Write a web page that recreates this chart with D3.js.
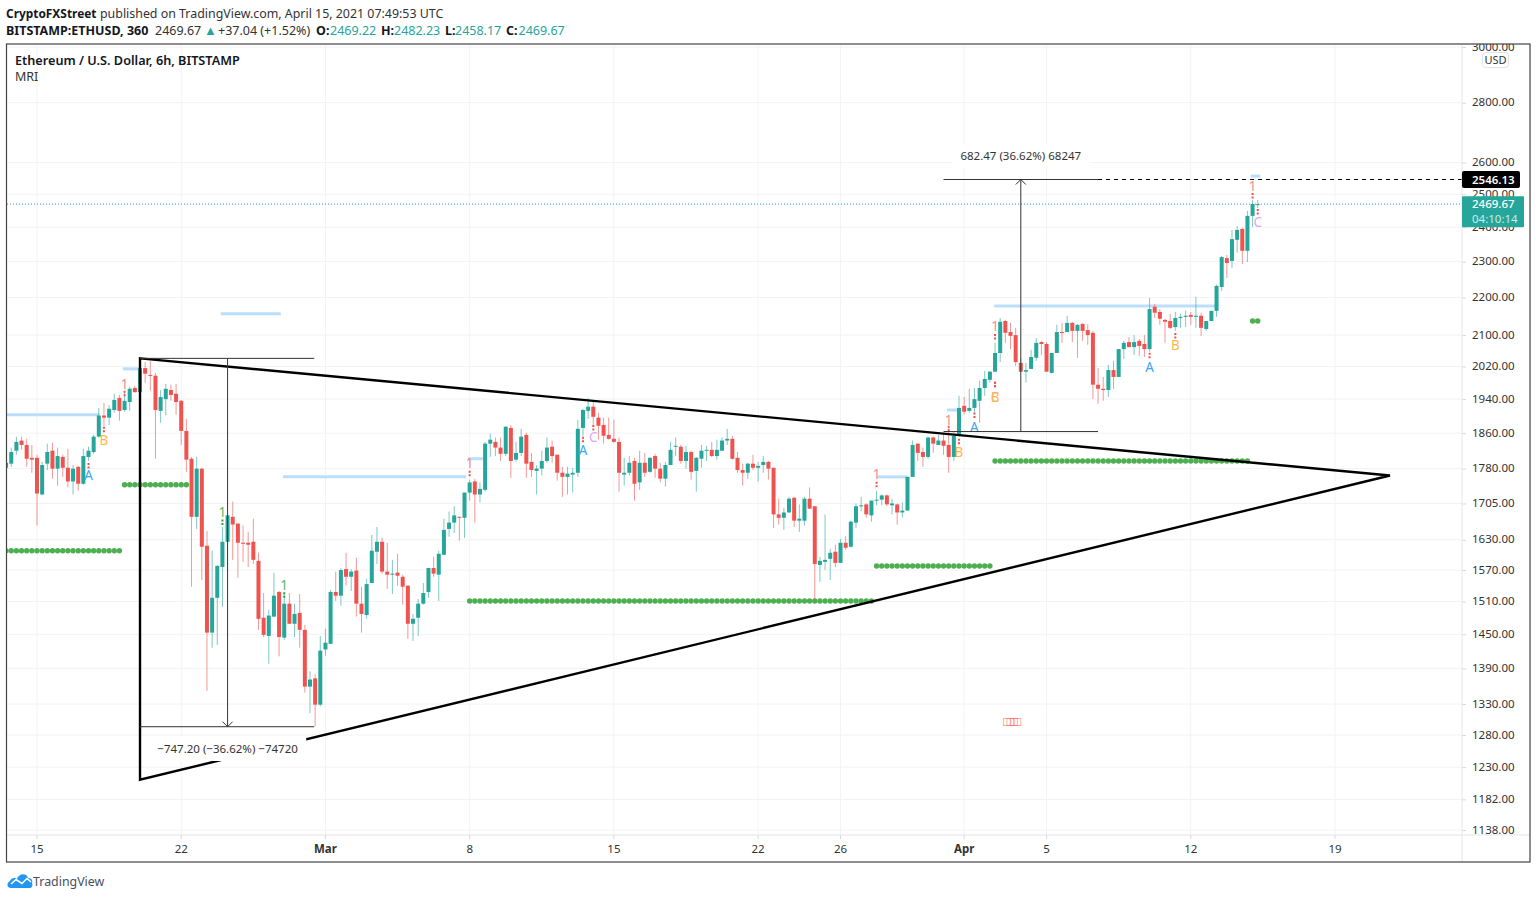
<!DOCTYPE html>
<html>
<head>
<meta charset="utf-8">
<title>ETHUSD</title>
<script src="https://cdn.jsdelivr.net/npm/d3@7"></script>
<style>
    body { margin: 0; background: #fff; }
    text { font-family: "Noto Sans", sans-serif; }
</style>
</head>
<body>
<div id="chart"></div>
<script>
// 6h bars, each row is [open, high, low, close]
var febBars = [
    [1782,1797,1777,1793],[1791,1827,1784,1817],[1820,1852,1811,1840],[1843,1852,1822,1833],[1833,1847,1784,1802],[1804,1833,1771,1800],
    [1804,1811,1659,1726],[1724,1795,1722,1788],[1791,1836,1777,1817],[1820,1838,1758,1780],[1780,1827,1743,1808],[1806,1811,1762,1782],
    [1782,1824,1739,1752],[1752,1788,1724,1780],[1784,1786,1732,1747],[1747,1824,1745,1808],[1806,1829,1797,1820],[1817,1856,1813,1852],
    [1852,1919,1850,1901],[1901,1931,1877,1896],[1896,1926,1879,1917],[1914,1953,1908,1938],[1943,1950,1889,1912],[1914,1957,1910,1936],
    [1933,1970,1912,1965],[1967,1972,1955,1957],[1957,2021,1955,2016],[2016,2031,1980,2002],[1999,2034,1960,1997],[1997,2004,1802,1914],
    [1912,1962,1884,1945],[1940,1977,1901,1965],[1962,1975,1936,1950],[1953,1977,1903,1933],[1936,1938,1833,1865],[1865,1893,1773,1800],
    [1802,1806,1538,1677],[1677,1806,1652,1780],[1780,1782,1551,1616],[1618,1648,1352,1453],[1453,1608,1426,1517],[1517,1580,1431,1578],
    [1576,1656,1500,1626],[1626,1680,1624,1680],[1677,1709,1590,1661],[1663,1663,1555,1624],[1624,1659,1586,1622],[1624,1646,1576,1620],
    [1626,1673,1582,1590],[1588,1604,1458,1478],[1480,1526,1445,1449],[1447,1495,1398,1484],[1482,1565,1482,1521],[1528,1530,1411,1445],
    [1444,1526,1440,1506],[1506,1526,1469,1469],[1469,1506,1445,1487],[1489,1524,1426,1458],[1458,1467,1349,1359],[1359,1385,1315,1371],
    [1373,1380,1294,1329],[1329,1447,1326,1421]
];
var marBars = [
    [1423,1460,1412,1435],[1433,1532,1433,1528],[1528,1567,1511,1521],[1521,1574,1502,1570],[1572,1604,1540,1557],[1557,1572,1530,1567],
    [1569,1594,1482,1506],[1506,1538,1453,1487],[1485,1553,1478,1543],[1545,1640,1545,1608],[1606,1656,1582,1626],[1626,1634,1563,1567],
    [1567,1624,1534,1561],[1561,1590,1524,1563],[1565,1602,1540,1559],[1557,1561,1504,1538],[1540,1540,1442,1469],[1469,1487,1438,1478],
    [1480,1515,1447,1506],[1506,1545,1504,1526],[1528,1574,1517,1574],[1574,1596,1557,1563],[1561,1608,1511,1602],[1600,1673,1600,1650],
    [1652,1688,1636,1665],[1665,1699,1644,1680],[1677,1677,1628,1675],[1675,1728,1634,1728],[1728,1756,1711,1750],[1752,1758,1665,1724],
    [1724,1750,1707,1736],[1734,1840,1730,1836],[1836,1859,1806,1845],[1840,1850,1808,1827],[1827,1850,1797,1813],[1813,1875,1808,1875],
    [1872,1879,1760,1797],[1800,1840,1795,1815],[1815,1870,1808,1852],[1856,1861,1760,1791],[1795,1815,1762,1777],[1775,1788,1724,1780],
    [1780,1820,1765,1797],[1797,1850,1793,1827],[1829,1843,1793,1808],[1811,1811,1754,1771],[1771,1784,1719,1762],[1762,1784,1724,1769],
    [1767,1782,1728,1771],[1771,1891,1762,1870],[1872,1917,1854,1914],[1912,1943,1893,1922],[1922,1933,1879,1898],[1896,1908,1845,1877],
    [1879,1896,1836,1854],[1856,1896,1845,1847],[1847,1891,1838,1840],[1840,1850,1730,1771],[1767,1804,1743,1771],[1771,1808,1765,1793],
    [1797,1804,1711,1747],[1750,1820,1734,1793],[1793,1815,1762,1771],[1773,1806,1771,1804],[1808,1813,1760,1780],[1780,1793,1750,1758],
    [1758,1795,1741,1788],[1788,1840,1788,1822],[1829,1850,1808,1831],[1829,1833,1791,1797],[1797,1831,1780,1817],[1817,1820,1756,1773],
    [1775,1806,1730,1804],[1802,1833,1782,1820],[1820,1831,1797,1822],[1822,1840,1806,1808],[1808,1845,1800,1822],[1820,1850,1820,1843],
    [1843,1870,1833,1847],[1847,1854,1800,1802],[1804,1817,1771,1777],[1777,1791,1743,1771],[1771,1793,1758,1791],[1791,1811,1777,1782],
    [1782,1795,1752,1786],[1788,1808,1771,1795],[1795,1797,1756,1780],[1782,1782,1654,1682],[1682,1715,1661,1675],[1675,1696,1650,1686],
    [1686,1719,1686,1715],[1717,1719,1656,1669],[1669,1703,1646,1673],[1669,1719,1659,1715],[1715,1739,1694,1694],[1699,1699,1513,1582],
    [1580,1596,1547,1588],[1586,1682,1570,1590],[1592,1612,1551,1604],[1606,1620,1576,1584],[1584,1632,1584,1624],[1624,1638,1610,1614],
    [1616,1669,1614,1667],[1665,1705,1654,1699],[1699,1719,1688,1701],[1703,1705,1675,1682],[1680,1711,1667,1711],[1711,1732,1701,1713],
    [1713,1724,1701,1722],[1722,1724,1699,1703],[1701,1715,1682,1705],[1703,1705,1661,1686],[1686,1707,1675,1690],[1690,1762,1690,1762],
    [1762,1843,1762,1833],[1836,1836,1797,1815],[1817,1827,1784,1806],[1806,1852,1802,1850],[1850,1852,1815,1836],[1833,1856,1833,1843],
    [1843,1861,1811,1831],[1833,1872,1771,1806],[1806,1863,1797,1854],[1854,1948,1852,1919]
];
var aprBars = [
    [1924,1945,1903,1910],[1912,1965,1908,1919],[1919,1967,1908,1940],[1936,1985,1884,1967],[1967,2009,1948,1989],[1987,2009,1980,2007],
    [2007,2080,2007,2054],[2054,2145,2031,2135],[2137,2140,2080,2106],[2108,2132,2064,2098],[2100,2119,2021,2031],[2029,2040,2007,2007],
    [2007,2029,1980,2011],[2014,2062,2014,2044],[2042,2092,2034,2080],[2082,2085,2049,2077],[2077,2082,2007,2007],[2004,2054,2002,2054],
    [2054,2127,2054,2108],[2108,2132,2080,2106],[2108,2151,2108,2132],[2132,2135,2082,2111],[2111,2129,2042,2127],[2129,2132,2085,2111],
    [2113,2129,2075,2100],[2106,2111,1940,1975],[1975,2016,1929,1965],[1965,1994,1936,1962],[1962,2024,1945,2011],[2011,2034,1965,1994],
    [1994,2064,1994,2064],[2064,2085,2039,2080],[2082,2095,2069,2069],[2069,2100,2049,2082],[2085,2090,2047,2072],[2077,2100,2044,2064],
    [2064,2199,2057,2169],[2175,2183,2145,2159],[2161,2169,2127,2143],[2140,2143,2080,2135],[2137,2156,2116,2119],[2121,2161,2111,2145],
    [2145,2156,2119,2148],[2148,2164,2121,2151],[2153,2161,2127,2148],[2148,2202,2119,2151],[2151,2159,2098,2119],[2116,2137,2111,2137],
    [2137,2164,2137,2164],[2164,2235,2148,2232],[2229,2316,2218,2313],[2310,2319,2254,2296],[2302,2392,2282,2365],[2363,2404,2325,2392],
    [2395,2398,2293,2331],[2331,2449,2299,2434],[2434,2483,2401,2470],[2469.22,2482.23,2458.17,2469.67]
];
var firstBar = "2021-02-13 12:00";

// Axis ticks
var priceTicks = [3000,2800,2600,2500,2400,2300,2200,2100,2020,1940,1860,1780,1705,1630,1570,1510,1450,1390,1330,1280,1230,1182,1138];
var timeTicks = ["2021-02-15","2021-02-22","2021-03-01","2021-03-08","2021-03-15","2021-03-22","2021-03-26","2021-04-01","2021-04-05","2021-04-12","2021-04-19"];
var timeLabels = ["15","22","Mar","8","15","22","26","Apr","5","12","19"];

// Light blue MRI levels
var blueStarts = ["2021-02-13 12:00","2021-02-19 04:00","2021-02-23 22:00","2021-02-26 22:30","2021-03-07 22:00","2021-03-27 18:00","2021-03-31 04:00","2021-04-02 11:00","2021-04-14 22:00"];
var blueEnds = ["2021-02-18 01:00","2021-02-20 00:00","2021-02-26 20:00","2021-03-07 20:00","2021-03-08 16:00","2021-03-29 06:00","2021-03-31 19:00","2021-04-13 05:00","2021-04-15 09:00"];
var bluePrices = [1903,2014,2156,1762,1802,1762,1914,2177,2557];

// Green MRI levels, one dot per bar
var greenStarts = ["2021-02-13 12:00","2021-02-19 06:00","2021-03-08 00:00","2021-03-27 18:00","2021-04-02 12:00","2021-04-15 00:00"];
var greenEnds = ["2021-02-19 00:00","2021-02-22 06:00","2021-03-27 12:00","2021-04-02 06:00","2021-04-14 18:00","2021-04-15 06:00"];
var greenPrices = [1608,1745,1511,1578,1797,2137];

// MRI signal labels
var signalTexts = ["1","1","1","1","1","1","1","1","A","B","A","C","B","A","C","B","A","B","C"];
var signalTimes = ["2021-02-19 06:00","2021-03-08 00:00","2021-03-27 18:00","2021-03-31 06:00","2021-04-02 12:00","2021-04-15 00:00","2021-02-24 00:00","2021-02-27 00:00","2021-02-17 12:00","2021-02-18 06:00","2021-03-13 12:00","2021-03-14 00:00","2021-03-31 18:00","2021-04-01 12:00","2021-04-02 12:00","2021-04-02 12:00","2021-04-10 00:00","2021-04-11 06:00","2021-04-15 06:00"];
var signalPrices = [1977,1793,1769,1891,2124,2526,1686,1541,1765,1845,1822,1852,1817,1875,1945,1945,2019,2075,2416];
var signalDotPrices = [1953,1769,1745,1870,2095,2495,1665,1522,1786,1868,1845,1872,1840,1901,1975,1975,2047,2098,2446];
var signalBelow = [1,1,1,1,1,1,0,0];

// Triangle drawn on the chart
var triangleTimes = ["2021-02-20 00:00","2021-04-21 16:00","2021-02-20 00:00"];
var trianglePrices = [2040.4,1765,1211];

// Price range tools
var downLeft = "2021-02-20 00:00", downRight = "2021-02-28 11:00", downMid = "2021-02-24 06:00";
var downHigh = 2040.4, downLow = 1293.2;
var upLeft = "2021-03-31 00:00", upRight = "2021-04-07 12:00", upMid = "2021-04-03 18:00";
var upHigh = 2546.13, upLow = 1863.66;
var lastPrice = 2469.67;

var upColor = "#26a69a";
var downColor = "#ef5350";
var signalColors = { A: "#42a5f5", B: "#ffb74d", C: "#e1a5f5" };

var svgWidth = 1536;
var svgHeight = 900;
var pane = { left: 7, right: 1462, top: 45, bottom: 835, frameRight: 1530, frameBottom: 862 };

var parseTime = d3.utcParse("%Y-%m-%d %H:%M");
var parseDay = d3.utcParse("%Y-%m-%d");

var svg = d3.select("#chart")
    .append("svg")
    .attr("width", svgWidth)
    .attr("height", svgHeight)
    .style("display", "block");

// Scales, the price axis is logarithmic
var xScale = d3.scaleUtc()
    .domain([parseDay("2021-02-15"), parseDay("2021-04-19")])
    .range([37, 1335]);
var yScale = d3.scaleLog()
    .domain([3000, 1138])
    .range([47, 830]);

var X = s => xScale(parseTime(s));

var defs = svg.append("defs");
defs.append("clipPath").attr("id", "paneClip").append("rect")
    .attr("x", pane.left).attr("y", pane.top)
    .attr("width", pane.right - pane.left).attr("height", pane.bottom - pane.top);
defs.append("clipPath").attr("id", "priceClip").append("rect")
    .attr("x", pane.right).attr("y", pane.top - 1)
    .attr("width", pane.frameRight - pane.right).attr("height", pane.bottom - pane.top + 1);

// Grid
var gridColor = "#f2f3f6";
var gridGroup = svg.append("g");
gridGroup.selectAll(".hgrid")
    .data(priceTicks)
    .enter()
    .append("line")
    .attr("x1", pane.left)
    .attr("x2", pane.right)
    .attr("y1", d => yScale(d))
    .attr("y2", d => yScale(d))
    .attr("stroke", gridColor);
gridGroup.selectAll(".vgrid")
    .data(timeTicks)
    .enter()
    .append("line")
    .attr("x1", d => xScale(parseDay(d)))
    .attr("x2", d => xScale(parseDay(d)))
    .attr("y1", pane.top)
    .attr("y2", pane.bottom)
    .attr("stroke", gridColor);

var chartGroup = svg.append("g").attr("clip-path", "url(#paneClip)");

// Light blue levels
chartGroup.selectAll(".blue")
    .data(bluePrices)
    .enter()
    .append("line")
    .attr("x1", (d, i) => X(blueStarts[i]))
    .attr("x2", (d, i) => X(blueEnds[i]))
    .attr("y1", d => yScale(d))
    .attr("y2", d => yScale(d))
    .attr("stroke", "#bbdefb")
    .attr("stroke-width", 3);

// Candles
var bars = febBars.concat(marBars, aprBars);
var barStart = parseTime(firstBar);
var barTime = i => d3.utcHour.offset(barStart, i * 6);

// Green levels, one dot for each bar inside the range
greenPrices.forEach(function (price, n) {
    var from = parseTime(greenStarts[n]);
    var to = parseTime(greenEnds[n]);
    var times = bars.map((b, i) => barTime(i)).filter(t => t >= from && t <= to);
    chartGroup.append("g").selectAll("circle")
        .data(times)
        .enter()
        .append("circle")
        .attr("cx", d => xScale(d))
        .attr("cy", yScale(price))
        .attr("r", 2.7)
        .attr("fill", "#4caf50");
});

var candles = chartGroup.selectAll(".candle")
    .data(bars)
    .enter()
    .append("g")
    .attr("class", "candle")
    .attr("transform", (d, i) => `translate(${xScale(barTime(i))}, 0)`);
candles.append("line")
    .attr("y1", d => yScale(d[1]))
    .attr("y2", d => yScale(d[2]))
    .attr("stroke", d => d[3] >= d[0] ? upColor : downColor)
    .attr("stroke-opacity", 0.6);
candles.append("rect")
    .attr("x", -2)
    .attr("width", 4)
    .attr("y", d => yScale(Math.max(d[0], d[3])))
    .attr("height", d => Math.max(1, Math.abs(yScale(d[0]) - yScale(d[3]))))
    .attr("fill", d => d[3] >= d[0] ? upColor : downColor);

// Signal labels with their small dashes
var signalColor = (t, i) => t == "1" ? (signalBelow[i] ? "#f78c8f" : "#5cb860") : signalColors[t];
chartGroup.selectAll(".signal")
    .data(signalTexts)
    .enter()
    .append("text")
    .attr("x", (d, i) => X(signalTimes[i]))
    .attr("y", (d, i) => yScale(signalPrices[i]) + 5)
    .attr("text-anchor", "middle")
    .attr("font-size", 13.5)
    .attr("fill", (d, i) => signalColor(d, i))
    .text(d => d);
chartGroup.selectAll(".signalDot")
    .data(signalTexts)
    .enter()
    .append("line")
    .attr("x1", (d, i) => X(signalTimes[i]))
    .attr("x2", (d, i) => X(signalTimes[i]))
    .attr("y1", (d, i) => yScale(signalDotPrices[i]) - 3)
    .attr("y2", (d, i) => yScale(signalDotPrices[i]) + 3)
    .attr("stroke", (d, i) => d == "1" && !signalBelow[i] ? "#2e9e3e" : "#ef5350")
    .attr("stroke-width", 2)
    .attr("stroke-dasharray", "2,1.5");

// Last price line
chartGroup.append("line")
    .attr("x1", pane.left)
    .attr("x2", pane.right)
    .attr("y1", yScale(lastPrice))
    .attr("y2", yScale(lastPrice))
    .attr("stroke", upColor)
    .attr("stroke-dasharray", "1,2");

// Dashed line from the range tool to the price axis
chartGroup.append("line")
    .attr("x1", X(upRight))
    .attr("x2", pane.right)
    .attr("y1", yScale(upHigh))
    .attr("y2", yScale(upHigh))
    .attr("stroke", "#000")
    .attr("stroke-dasharray", "4,4");

// Triangle
var triangleLine = d3.line()
    .x((d, i) => X(triangleTimes[i]))
    .y(d => yScale(d));
chartGroup.append("path")
    .attr("d", triangleLine(trianglePrices) + "Z")
    .attr("fill", "none")
    .attr("stroke", "#000")
    .attr("stroke-width", 2.4);

// Draw one range tool: two horizontals, a vertical with an arrow, a boxed label
function drawRange(left, right, mid, high, low, arrowPrice, label, labelY) {
    var g = chartGroup.append("g").attr("stroke", "#333").attr("fill", "none");
    [high, low].forEach(function (p) {
        g.append("line")
            .attr("x1", X(left)).attr("x2", X(right))
            .attr("y1", yScale(p)).attr("y2", yScale(p));
    });
    g.append("line")
        .attr("x1", X(mid)).attr("x2", X(mid))
        .attr("y1", yScale(high)).attr("y2", yScale(low));
    var tipX = X(mid);
    var tipY = yScale(arrowPrice);
    var dir = arrowPrice == high ? 1 : -1;
    g.append("path")
        .attr("d", d3.line()([[tipX - 5, tipY + dir * 5], [tipX, tipY], [tipX + 5, tipY + dir * 5]]));
    var txt = chartGroup.append("text")
        .attr("x", X(mid))
        .attr("y", labelY)
        .attr("text-anchor", "middle")
        .attr("font-size", 11.5)
        .attr("fill", "#333")
        .text(label);
    var box = txt.node().getBBox();
    chartGroup.insert("rect", "text:last-of-type")
        .attr("x", box.x - 8)
        .attr("y", box.y - 4)
        .attr("width", box.width + 16)
        .attr("height", box.height + 9)
        .attr("fill", "#fff");
    txt.raise();
}
drawRange(downLeft, downRight, downMid, downHigh, downLow, downLow, "\u2212747.20 (\u221236.62%) \u221274720", 753);
drawRange(upLeft, upRight, upMid, upHigh, upLow, upHigh, "682.47 (36.62%) 68247", 160);

// Stray boxes of the source picture
chartGroup.append("text")
    .attr("x", 1010)
    .attr("y", 725.5)
    .attr("text-anchor", "middle")
    .attr("font-size", 13)
    .attr("letter-spacing", "-4.5px")
    .attr("font-family", "DejaVu Sans")
    .attr("fill", "#f66")
    .text("\u25a1\u25a1\u25a1\u25a1");

// Legend
chartGroup.append("text")
    .attr("x", 15).attr("y", 65)
    .attr("font-size", 12.7).attr("font-weight", 600).attr("fill", "#131722")
    .text("Ethereum / U.S. Dollar, 6h, BITSTAMP");
chartGroup.append("text")
    .attr("x", 15).attr("y", 81)
    .attr("font-size", 12.5).attr("fill", "#333")
    .text("MRI");

// Price axis
var rightAxis = d3.axisRight(yScale)
    .tickValues(priceTicks)
    .tickFormat(d3.format(".2f"))
    .tickSize(4)
    .tickPadding(6);
var yAxis = svg.append("g")
    .attr("clip-path", "url(#priceClip)")
    .append("g")
    .attr("transform", `translate(${pane.right}, 0)`)
    .call(rightAxis);
yAxis.select(".domain").remove();
yAxis.selectAll("line").attr("stroke", "#d6d8de");
yAxis.selectAll("text")
    .attr("font-size", 11.5)
    .attr("dy", "0.26em")
    .attr("fill", "#333")
    .attr("font-family", "Noto Sans");

// Time axis
var bottomAxis = d3.axisBottom(xScale)
    .tickValues(timeTicks.map(d => parseDay(d)))
    .tickFormat((d, i) => timeLabels[i])
    .tickSize(4)
    .tickPadding(6);
var xAxis = svg.append("g")
    .attr("transform", `translate(-0.5, ${pane.bottom})`)
    .call(bottomAxis);
xAxis.select(".domain").remove();
xAxis.selectAll("line").attr("stroke", "#d6d8de");
xAxis.selectAll("text")
    .attr("font-size", 11.5)
    .attr("font-family", "Noto Sans")
    .attr("fill", "#333")
    .attr("font-weight", (d, i) => timeLabels[i] == "Mar" || timeLabels[i] == "Apr" ? 700 : 400);

// Axis separators
svg.append("line")
    .attr("x1", pane.left).attr("x2", pane.frameRight)
    .attr("y1", pane.bottom).attr("y2", pane.bottom)
    .attr("stroke", "#e4e5e9");
svg.append("line")
    .attr("x1", pane.right).attr("x2", pane.right)
    .attr("y1", pane.top).attr("y2", pane.frameBottom)
    .attr("stroke", "#e4e5e9");

// Price labels
var priceTagY = yScale(upHigh);
svg.append("rect")
    .attr("x", pane.right).attr("y", priceTagY - 8.5)
    .attr("width", 58).attr("height", 17).attr("rx", 2)
    .attr("fill", "#000");
svg.append("text")
    .attr("x", 1472).attr("y", priceTagY + 4)
    .attr("font-size", 11.5).attr("font-weight", 600).attr("fill", "#fff")
    .text("2546.13");
var lastY = yScale(lastPrice);
svg.append("rect")
    .attr("x", pane.right).attr("y", lastY - 8)
    .attr("width", 62).attr("height", 31).attr("rx", 1)
    .attr("fill", upColor);
svg.append("text")
    .attr("x", 1472).attr("y", lastY + 4)
    .attr("font-size", 11.5).attr("font-weight", 500).attr("fill", "#fff")
    .text("2469.67");
svg.append("text")
    .attr("x", 1472).attr("y", lastY + 19)
    .attr("font-size", 11.5).attr("fill", "#c8ece8")
    .text("04:10:14");

// USD button
svg.append("rect")
    .attr("x", 1482.5).attr("y", 52.5)
    .attr("width", 26).attr("height", 15).attr("rx", 3)
    .attr("fill", "#fff").attr("stroke", "#e0e3eb");
svg.append("text")
    .attr("x", 1495.5).attr("y", 64)
    .attr("text-anchor", "middle")
    .attr("font-size", 11).attr("fill", "#333")
    .text("USD");

// Frame
svg.append("rect")
    .attr("x", 6.5).attr("y", 44)
    .attr("width", 1523.5).attr("height", 818)
    .attr("fill", "none")
    .attr("stroke", "#444")
    .attr("stroke-width", 1.2);

// Header lines, pieces placed where the reference has them
var line1 = svg.append("text").attr("y", 18).attr("font-size", 12.4).attr("fill", "#333");
line1.append("tspan").attr("x", 6).attr("font-size", 11.9).attr("font-weight", 700).attr("fill", "#131722").text("CryptoFXStreet");
line1.append("tspan").attr("x", 100).text("published on TradingView.com, April 15, 2021 07:49:53 UTC");

var line2 = svg.append("text").attr("y", 35).attr("font-size", 12.5).attr("fill", "#333");
line2.append("tspan").attr("x", 6).attr("font-weight", 700).attr("fill", "#131722").text("BITSTAMP:ETHUSD, 360");
line2.append("tspan").attr("x", 155).text("2469.67");
line2.append("tspan").attr("x", 204).attr("font-size", 13).attr("fill", upColor).text("\u25b2");
line2.append("tspan").attr("x", 218).text("+37.04 (+1.52%)");
var ohlcLabels = ["O:", "H:", "L:", "C:"];
var ohlcValues = ["2469.22", "2482.23", "2458.17", "2469.67"];
var ohlcLabelX = [316, 381, 445, 506];
var ohlcValueX = [330, 394, 455, 518.5];
ohlcLabels.forEach(function (label, i) {
    line2.append("tspan").attr("x", ohlcLabelX[i]).attr("font-weight", 700).attr("fill", "#131722").text(label);
    line2.append("tspan").attr("x", ohlcValueX[i]).attr("fill", upColor).text(ohlcValues[i]);
});

// Footer logo
var logo = svg.append("g").attr("transform", "translate(7, 873)");
logo.append("path")
    .attr("d", "M4 15 C0 15 -1 10 3 8 C4 5 8 4 10 6 C12 0 20 0 21 5 C25 5 26 8 25 10 C26 13 25 15 22 15 Z")
    .attr("fill", "#2196f3");
logo.append("path")
    .attr("d", "M4 11 L9 6.5 L15 10.5 L20 5.5 L24 9")
    .attr("fill", "none")
    .attr("stroke", "#fff")
    .attr("stroke-width", 1.6);
svg.append("text")
    .attr("x", 33).attr("y", 886)
    .attr("font-size", 12.4).attr("fill", "#4a4f5c")
    .text("TradingView");
</script>
</body>
</html>
